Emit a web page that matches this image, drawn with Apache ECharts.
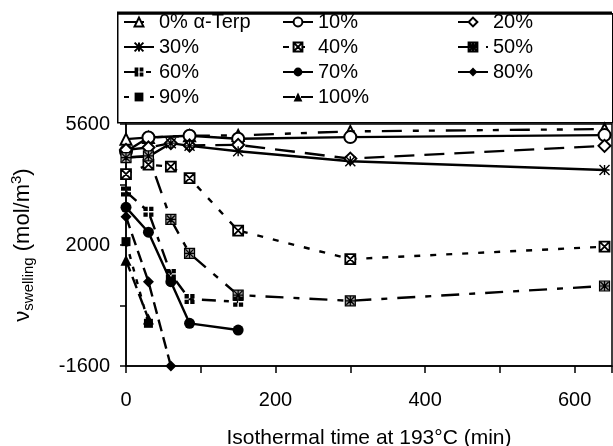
<!DOCTYPE html>
<html>
<head>
<meta charset="utf-8">
<script src="https://cdn.jsdelivr.net/npm/echarts@6/dist/echarts.min.js"></script>
<style>
  html, body { margin: 0; padding: 0; background: #fff; }
  #chart { width: 613px; height: 446px; }
</style>
</head>
<body>
<div id="chart"></div>
<script>
// isothermal time (min)
var times = [0, 30, 60, 85, 150, 300, 640];

// swelling values per alpha-terpineol content (null = not measured)
var terp0   = [5150, 5200, null, 5250, 5260, 5380, 5450];
var terp10  = [4780, 5200, null, 5250, 5160, 5210, 5270];
var terp20  = [4830, 4900, 5030, 4960, 4980, 4570, 4950];
var terp30  = [4610, 4630, 5030, 4950, 4790, 4490, 4230];
var terp40  = [4110, 4390, 4330, 3990, 2430, 1580, 1950];
var terp50  = [4600, 4650, 2760, 1750, 510, 340, 780];
var terp60  = [3590, 2990, 1140, 390, 310, null, null];
var terp70  = [3120, 2380, 910, -330, -530, null, null];
var terp80  = [2840, 910, -1600, null, null, null, null];
var terp90  = [2100, -330, null, null, null, null, null];
var terp100 = [1550, -200, null, null, null, null, null];

var yTicks = [-1600, 200, 2000, 3800, 5600];
var yLabels = [-1600, 2000, 5600];
var xLabels = [0, 200, 400, 600];

// marker paths
var asterisk = "path://M0,0L10,10M10,0L0,10M5,0L5,10M0,5L10,5";
var boxX = "path://M0,0L10,0L10,10L0,10ZM0,0L10,10M10,0L0,10";
var boxStar = "path://M0,0L10,0L10,10L0,10ZM1,1L9,9M9,1L1,9M5,0L5,10M0,5L10,5";
var boxGrid = "path://M0,0H4.3V4.3H0ZM5.7,0H10V4.3H5.7ZM0,5.7H4.3V10H0ZM5.7,5.7H10V10H5.7Z";

function pairs(vals) {
  var out = [];
  for (var i = 0; i < times.length; i++) {
    if (vals[i] !== null) out.push([times[i], vals[i]]);
  }
  return out;
}

function mk(name, vals, symbol, dash, fill, size, border) {
  return {
    name: name,
    type: "line",
    data: pairs(vals),
    symbol: symbol,
    symbolSize: size || 10,
    showAllSymbol: true,
    lineStyle: { color: "#000", width: 2.4, type: dash },
    itemStyle: { color: fill, borderColor: "#000", borderWidth: border },
    emphasis: { disabled: true },
    z: 3
  };
}

var series = [
  mk("0% α-Terp", terp0, "emptyTriangle", [20, 11, 6, 10, 6, 11], "#000", 11, 1.3),
  mk("10%", terp10, "emptyCircle", "solid", "#000", 12, 1.3),
  mk("20%", terp20, "emptyDiamond", [20, 10], "#000", 12, 1.3),
  mk("30%", terp30, asterisk, "solid", "#fff", 10, 1.4),
  mk("40%", terp40, boxX, [6, 10], "#fff", 10, 1.8),
  mk("50%", terp50, boxStar, [18, 10, 6, 10], "#999", 10, 1.2),
  mk("60%", terp60, boxGrid, [14, 8, 5, 8], "#000", 10, 0),
  mk("70%", terp70, "circle", "solid", "#000", 11, 0),
  mk("80%", terp80, "diamond", [12, 6], "#000", 11, 0),
  mk("90%", terp90, "rect", [5, 8], "#000", 9, 0),
  mk("100%", terp100, "triangle", [12, 6], "#000", 11, 0)
];

var font = "'Liberation Sans', Arial, sans-serif";

function legendCol(names, left) {
  return {
    data: names,
    orient: "vertical",
    left: left,
    top: 12,
    padding: 0,
    itemGap: 5,
    itemWidth: 30,
    itemHeight: 11,
    selectedMode: false,
    textStyle: { fontFamily: font, fontSize: 20, color: "#000", lineHeight: 20 }
  };
}

function plain(v) { return String(v); }

var chart = echarts.init(document.getElementById("chart"));
chart.setOption({
  animation: false,
  backgroundColor: "#fff",
  textStyle: { fontFamily: font },
  grid: {
    left: 126, top: 124, right: 1, bottom: 80,
    outerBoundsMode: "none",
    containLabel: false,
    show: true, borderColor: "#000", borderWidth: 1.5
  },
  legend: [
    legendCol(["0% α-Terp", "30%", "60%", "90%"], 123),
    legendCol(["10%", "40%", "70%", "100%"], 282),
    legendCol(["20%", "50%", "80%"], 457)
  ],
  graphic: [
    {
      type: "rect", left: 117, top: 13, z: -1,
      shape: { width: 495, height: 109 },
      style: { fill: "#fff", stroke: "#000", lineWidth: 1.5 }
    },
    {
      type: "line", z: 10,
      shape: { x1: 117, y1: 13, x2: 612, y2: 13 },
      style: { stroke: "#000", lineWidth: 3 }
    }
  ],
  xAxis: {
    type: "value",
    min: 0, max: 650, interval: 100,
    name: "Isothermal time at 193°C (min)",
    nameLocation: "middle",
    nameGap: 62,
    nameTextStyle: { fontFamily: font, fontSize: 21, color: "#000" },
    axisLine: { onZero: false, lineStyle: { color: "#000", width: 1.5 } },
    axisTick: { inside: false, length: 7, lineStyle: { color: "#000", width: 1.5 } },
    axisLabel: { customValues: xLabels, margin: 24, fontSize: 20, color: "#000", fontFamily: font, formatter: plain },
    splitLine: { show: false }
  },
  yAxis: {
    type: "value",
    min: -1600, max: 5600,
    name: "{n|ν}{s|swelling}{n| (mol/m}{p|3}{n|)}",
    nameLocation: "middle",
    nameGap: 88,
    nameRotate: 90,
    nameTextStyle: {
      fontFamily: font, fontSize: 22, color: "#000",
      rich: {
        n: { fontFamily: font, fontSize: 22, color: "#000", lineHeight: 30 },
        s: { fontFamily: font, fontSize: 15, color: "#000", lineHeight: 30, padding: [12, 0, 0, 0] },
        p: { fontFamily: font, fontSize: 15, color: "#000", lineHeight: 30, padding: [0, 0, 12, 0] }
      }
    },
    axisLine: { onZero: false, lineStyle: { color: "#000", width: 1.5 } },
    axisTick: { customValues: yTicks, inside: false, length: 6, lineStyle: { color: "#000", width: 1.5 } },
    axisLabel: { customValues: yLabels, margin: 16, fontSize: 20, color: "#000", fontFamily: font, formatter: plain },
    splitLine: { show: false }
  },
  series: series
});
</script>
</body>
</html>
